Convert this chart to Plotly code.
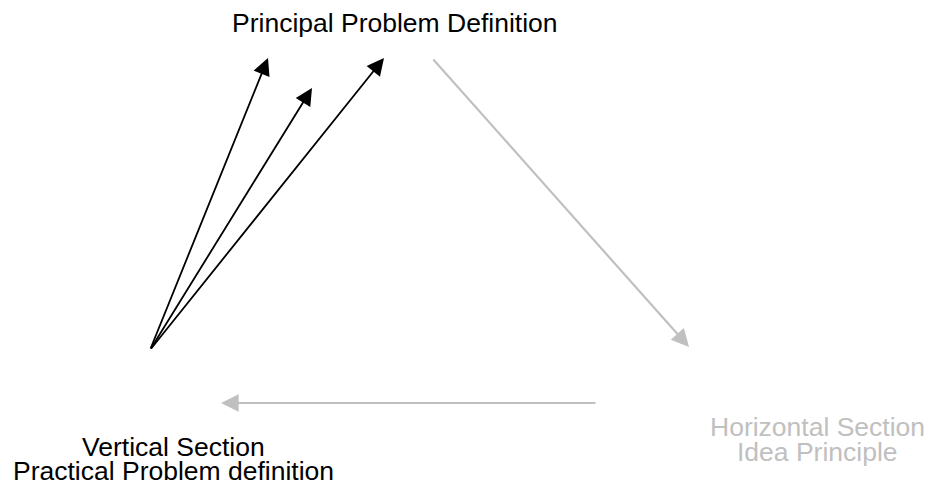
import plotly.graph_objects as go

# Diagram nodes (label positions in a 932 x 488 canvas coordinate space)
top_label = "Principal Problem Definition"
left_labels = ["Vertical Section", "Practical Problem definition"]
right_labels = ["Horizontal Section", "Idea Principle"]

top_pos = (395, 23)
left_pos_x = 173
left_pos_y = [447, 471]
right_pos_x = 817
right_pos_y = [427, 452]

# Black arrows: (tail_x, tail_y, head_x, head_y)
black_tails_x = [150, 150, 150]
black_tails_y = [350, 350, 350]
black_heads_x = [268, 312, 384]
black_heads_y = [58, 88, 58]

# Gray arrows
gray_tails_x = [432, 597]
gray_tails_y = [58, 403]
gray_heads_x = [689, 221]
gray_heads_y = [347, 403]

BLACK = "#000000"
GRAY = "#c0c0c0"
FONT = "Liberation Sans, Arial, sans-serif"
FSIZE = 26.5

# page body has an 8px margin: the figure occupies the window from (8, 8)
OFF = 8
W, H = 932, 488

fig = go.Figure()
fig.add_trace(go.Scatter(x=[OFF, W], y=[OFF, H], mode="markers",
                         marker=dict(opacity=0), hoverinfo="skip", showlegend=False))

annotations = []
for tx, ty, hx, hy in zip(black_tails_x, black_tails_y, black_heads_x, black_heads_y):
    annotations.append(dict(x=hx, y=hy, ax=tx, ay=ty, xref="x", yref="y", axref="x", ayref="y",
                            showarrow=True, arrowhead=2, arrowsize=1.9, arrowwidth=1.8,
                            arrowcolor=BLACK, text=""))
for tx, ty, hx, hy in zip(gray_tails_x, gray_tails_y, gray_heads_x, gray_heads_y):
    annotations.append(dict(x=hx, y=hy, ax=tx, ay=ty, xref="x", yref="y", axref="x", ayref="y",
                            showarrow=True, arrowhead=2, arrowsize=1.6, arrowwidth=2.2,
                            arrowcolor=GRAY, text=""))

annotations.append(dict(x=top_pos[0], y=top_pos[1], xref="x", yref="y", text=top_label,
                        showarrow=False, xanchor="center", yanchor="middle",
                        font=dict(family=FONT, size=FSIZE, color=BLACK)))
for lbl, yy in zip(left_labels, left_pos_y):
    annotations.append(dict(x=left_pos_x, y=yy, xref="x", yref="y", text=lbl,
                            showarrow=False, xanchor="center", yanchor="middle",
                            font=dict(family=FONT, size=FSIZE, color=BLACK)))
for lbl, yy in zip(right_labels, right_pos_y):
    annotations.append(dict(x=right_pos_x, y=yy, xref="x", yref="y", text=lbl,
                            showarrow=False, xanchor="center", yanchor="middle",
                            font=dict(family=FONT, size=FSIZE, color=GRAY)))

fig.update_layout(
    width=W - OFF, height=H - OFF,
    margin=dict(l=0, r=0, t=0, b=0),
    paper_bgcolor="white", plot_bgcolor="white",
    xaxis=dict(range=[OFF, W], visible=False, fixedrange=True),
    yaxis=dict(range=[H, OFF], visible=False, fixedrange=True),
    annotations=annotations,
    showlegend=False,
)

fig.write_html("out.html", config={"displayModeBar": False})
